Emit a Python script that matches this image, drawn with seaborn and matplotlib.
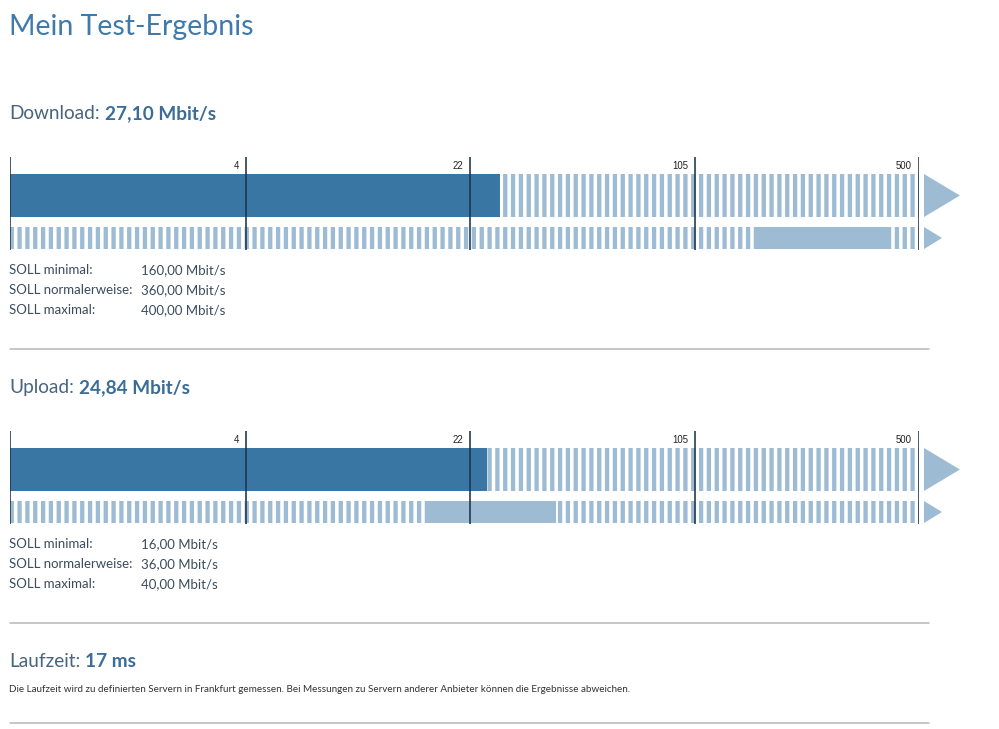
import numpy as np
import matplotlib
matplotlib.use("Agg")
import matplotlib.pyplot as plt
from matplotlib.patches import Polygon
from matplotlib.transforms import blended_transform_factory
import seaborn as sns

# gauge scale marks
scale_ticks = [0, 4, 22, 105, 500]
scale_labels = ["", "4", "22", "105", "500"]

# test results
directions = ["Download", "Upload"]
measured = [27.10, 24.84]
soll_min = [160.0, 16.0]
soll_normal = [360.0, 36.0]
soll_max = [400.0, 40.0]
soll_names = ["SOLL minimal:", "SOLL normalerweise:", "SOLL maximal:"]
laufzeit_ms = 17

title = "Mein Test-Ergebnis"
note = ("Die Laufzeit wird zu definierten Servern in Frankfurt gemessen. "
        "Bei Messungen zu Servern anderer Anbieter können die Ergebnisse abweichen.")

# dpi chosen so that the '||' hatch gives ~7.8 px stripes
DPI = 94
W, H = 999, 729


def pt(px):
    return px * 72.0 / DPI


def de_num(v):
    return f"{v:,.2f}".replace(",", "X").replace(".", ",").replace("X", ".")


dark = "#3a76a4"
light = "#9dbbd3"
navy = "#1d3549"
title_c = "#3f7aab"
label_c = "#48647e"
value_c = "#3b6d96"
text_c = "#3b4c5c"
sep_c = "#b5b5b5"

sns.set_theme(style="white")
plt.rcParams["font.family"] = ["Lato", "DejaVu Sans"]
plt.rcParams["hatch.linewidth"] = pt(4.3)
plt.rcParams["hatch.color"] = light

# piecewise scale: linear up to 4, logarithmic between the marks above
seg_pos = np.array([0, 236, 460, 685, 909], float)
tick_vals = np.array(scale_ticks, float)
log_t = np.log(tick_vals[1:])
slope = (seg_pos[-1] - seg_pos[-2]) / (log_t[-1] - log_t[-2])


def forward(v):
    v = np.asarray(v, float)
    lv = np.log(np.clip(v, 1e-9, None))
    out = np.interp(lv, log_t, seg_pos[1:])
    out = np.where(lv > log_t[-1], seg_pos[-1] + (lv - log_t[-1]) * slope, out)
    return np.where(v < tick_vals[1], v / tick_vals[1] * seg_pos[1], out)


def inverse(u):
    u = np.asarray(u, float)
    lv = np.interp(u, seg_pos[1:], log_t)
    lv = np.where(u > seg_pos[-1], log_t[-1] + (u - seg_pos[-1]) / slope, lv)
    with np.errstate(over="ignore"):
        return np.where(u < seg_pos[1], u / seg_pos[1] * tick_vals[1], np.exp(lv))


fig = plt.figure(figsize=(W / DPI + 1e-6, H / DPI + 1e-6), dpi=DPI)
fig.patch.set_facecolor("white")

# background axes in pixel units for the page text
bg = fig.add_axes([0, 0, 1, 1])
bg.set_xlim(0, W)
bg.set_ylim(H, 0)
bg.axis("off")

bg.text(9, 34.5, title, fontsize=pt(28.5), color=title_c, va="baseline")


def header(y, label, value):
    t = bg.text(9, y, label, fontsize=pt(19), color=label_c, va="baseline")
    bg.annotate(value, xy=(1, 0), xycoords=t, xytext=(pt(5), 0),
                textcoords="offset points", ha="left", va="bottom",
                fontsize=pt(19), color=value_c, fontweight="bold")


step = 274
gauge_top, gauge_h = 157, 93
left, width = 10, 909

for i, name in enumerate(directions):
    off = step * i
    header(119 + off, f"{name}:", f"{de_num(measured[i])} Mbit/s")

    ax = fig.add_axes([left / W, 1 - (gauge_top + off + gauge_h) / H,
                       width / W, gauge_h / H])
    ax.set_xscale("function", functions=(forward, inverse))

    # upper row: measured speed, the rest striped
    ax.barh(38.5, 500 - measured[i], left=measured[i], height=43,
            facecolor="none", edgecolor=light, lw=0, hatch="||")
    ax.barh(38.5, measured[i], left=0, height=43, color=dark, lw=0, zorder=3)

    # lower row: contracted range solid, rest striped
    ax.barh(81, soll_min[i], left=0, height=22,
            facecolor="none", edgecolor=light, lw=0, hatch="||")
    ax.barh(81, soll_max[i] - soll_min[i], left=soll_min[i], height=22,
            color=light, lw=0)
    ax.barh(81, 500 - soll_max[i], left=soll_max[i], height=22,
            facecolor="none", edgecolor=light, lw=0, hatch="||")

    for v, lab in zip(scale_ticks, scale_labels):
        ax.axvline(v, color=navy, lw=pt(1.6), zorder=5)
        ax.annotate(lab, xy=(v, 4), xytext=(-pt(7), 0), textcoords="offset points",
                    ha="right", va="top", fontsize=pt(9.6), color="#222222",
                    family=["Liberation Sans", "DejaVu Sans"])

    trans = blended_transform_factory(ax.transAxes, ax.transData)
    a0, a_big, a_small = 1.0055, 1.045, 1.0253
    ax.add_patch(Polygon([(a0, 17), (a0, 60), (a_big, 38.5)], closed=True,
                         transform=trans, color=light, lw=0, clip_on=False))
    ax.add_patch(Polygon([(a0, 70), (a0, 92), (a_small, 81)], closed=True,
                         transform=trans, color=light, lw=0, clip_on=False))

    ax.set_xlim(0, 500)
    ax.set_ylim(gauge_h, 0)
    ax.axis("off")

    soll_vals = [soll_min[i], soll_normal[i], soll_max[i]]
    for j, (sn, sv) in enumerate(zip(soll_names, soll_vals)):
        y = 274 + off + 20 * j
        bg.text(9, y, sn, fontsize=pt(13.2), color=text_c, va="baseline")
        bg.text(141, y, f"{de_num(sv)} Mbit/s", fontsize=pt(13.2),
                color=text_c, va="baseline")

    bg.axhline(349 + off, xmin=10 / W, xmax=929 / W, color=sep_c, lw=pt(1.5))

header(667, "Laufzeit:", f"{laufzeit_ms} ms")
bg.text(9, 692, note, fontsize=pt(9.9), color="#333333", va="baseline")
bg.axhline(723, xmin=10 / W, xmax=929 / W, color=sep_c, lw=pt(1.5))

fig.savefig("out.png", dpi=DPI, facecolor="white")
